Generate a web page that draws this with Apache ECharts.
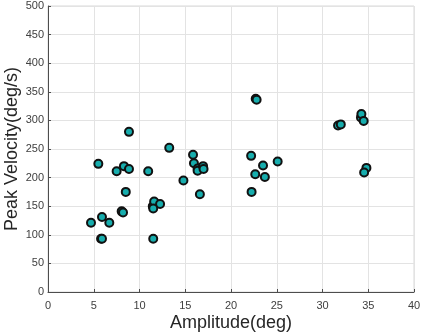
<!DOCTYPE html>
<html>
<head>
<meta charset="utf-8">
<script src="https://cdn.jsdelivr.net/npm/echarts@6/dist/echarts.min.js"></script>
<style>
html, body { margin: 0; padding: 0; background: #fff; }
#chart { width: 423px; height: 334px; }
</style>
</head>
<body>
<div id="chart"></div>
<script>
// amplitude (deg) and peak velocity (deg/s)
var amplitude = [4.7, 5.5, 5.9, 5.8, 5.9, 6.7, 7.5, 8.3, 8.85, 8.5, 8.05, 8.2, 8.85,
    10.95, 11.45, 11.6, 12.25, 11.5, 11.5, 13.25, 14.8, 15.85, 15.95, 16.35, 16.35, 16.95, 17.0, 16.6,
    22.2, 22.25, 22.65, 22.7, 22.8, 23.5, 23.7, 25.1,
    31.7, 32.0, 34.2, 34.25, 34.5, 34.8, 34.55];
var peakVelocity = [121, 224, 131, 93, 93, 121, 211, 220, 215, 175, 141, 139, 280,
    211, 150, 158, 154, 146, 93, 252, 195, 240, 225, 216, 212, 220, 215, 171,
    238, 175, 206, 338, 336, 221, 201, 228,
    291, 293, 305, 311, 299, 217, 209];

var xTicks = { min: 0, max: 40, interval: 5 };
var yTicks = { min: 0, max: 500, interval: 50 };

var chart = echarts.init(document.getElementById("chart"));
var points = amplitude.map(function (x, i) {
    return [x, peakVelocity[i]];
});

var labelFont = 'Liberation Sans, Arial, sans-serif';

var option = {
    animation: false,
    grid: {
        left: 48,
        right: 9,
        top: 6,
        bottom: 42,
        outerBoundsMode: 'none', // keep the plot box where it is
        containLabel: false,
        show: true,
        borderColor: '#d9d9d9',
        borderWidth: 1
    },
    xAxis: {
        type: 'value',
        min: xTicks.min,
        max: xTicks.max,
        interval: xTicks.interval,
        name: 'Amplitude(deg)',
        nameLocation: 'middle',
        nameGap: 22,
        nameMoveOverlap: false,
        nameTextStyle: { fontSize: 18, color: '#262626', fontFamily: labelFont },
        axisLine: { show: true, lineStyle: { color: '#4d4d4d', width: 1 } },
        axisTick: { show: true, inside: true, length: 3, lineStyle: { color: '#4d4d4d' } },
        axisLabel: { fontSize: 11, color: '#404040', margin: 8, fontFamily: labelFont },
        splitLine: { show: true, lineStyle: { color: '#e3e3e3', width: 1 } }
    },
    yAxis: {
        type: 'value',
        min: yTicks.min,
        max: yTicks.max,
        interval: yTicks.interval,
        name: 'Peak Velocity(deg/s)',
        nameLocation: 'middle',
        nameGap: 27,
        nameMoveOverlap: false,
        nameTextStyle: { fontSize: 18, color: '#262626', fontFamily: labelFont },
        axisLine: { show: true, lineStyle: { color: '#4d4d4d', width: 1 } },
        axisTick: { show: true, inside: true, length: 3, lineStyle: { color: '#4d4d4d' } },
        axisLabel: { fontSize: 11, color: '#404040', margin: 4, fontFamily: labelFont },
        splitLine: { show: true, lineStyle: { color: '#e3e3e3', width: 1 } }
    },
    series: [{
        type: 'scatter',
        data: points,
        symbol: 'circle',
        symbolSize: 8,
        itemStyle: {
            color: '#17adad',
            borderColor: '#111',
            borderWidth: 2,
            opacity: 1
        }
    }]
};

chart.setOption(option);
</script>
</body>
</html>
